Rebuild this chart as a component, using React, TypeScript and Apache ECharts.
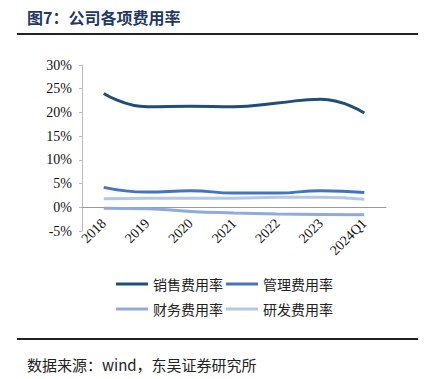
import React, { useEffect, useRef } from "react";
import * as echarts from "echarts";

const categories = ["2018", "2019", "2020", "2021", "2022", "2023", "2024Q1"];
const salesRate = [24.0, 21.2, 21.3, 21.2, 22.0, 22.8, 19.9];
const mgmtRate = [4.2, 3.2, 3.5, 3.0, 3.0, 3.5, 3.1];
const finRate = [-0.2, -0.3, -0.9, -1.2, -1.4, -1.5, -1.6];
const rdRate = [1.8, 1.9, 1.9, 1.9, 2.1, 2.1, 1.7];
const seriesNames = ["销售费用率", "管理费用率", "财务费用率", "研发费用率"];
const colors = ["#1F4E79", "#4472C4", "#8FAADC", "#B4C7E7"];

export default function App() {
  const ref = useRef<HTMLDivElement>(null);
  useEffect(() => {
    const chart = echarts.init(ref.current!, null, { renderer: "svg" });
    const data = [salesRate, mgmtRate, finRate, rdRate];
    const serif = "Liberation Serif";
    const cjk = "Noto Sans CJK SC";
    chart.setOption({
      animation: false,
      backgroundColor: "#fff",
      grid: { left: 82, right: 43, top: 65, bottom: 148 },
      graphic: [
        { type: "text", left: 27, top: 9, style: { text: "图7：公司各项费用率", font: `bold 16px "${cjk}"`, fill: "#1F3864" } },
        { type: "line", shape: { x1: 17, y1: 34, x2: 418, y2: 34 }, style: { stroke: "#222", lineWidth: 2 } },
        { type: "line", shape: { x1: 17, y1: 339, x2: 418, y2: 339 }, style: { stroke: "#222", lineWidth: 2 } },
        { type: "text", left: 27, top: 357, style: { text: "数据来源：wind，东吴证券研究所", font: `15px "${cjk}"`, fill: "#222" } },
      ],
      legend: [
        {
          data: seriesNames.slice(0, 2), left: 111, top: 272, itemWidth: 32, itemHeight: 3, itemGap: 3,
          icon: "rect", textStyle: { fontFamily: cjk, fontSize: 14, color: "#222" },
        },
        {
          data: seriesNames.slice(2, 4), left: 111, top: 297, itemWidth: 32, itemHeight: 3, itemGap: 3,
          icon: "rect", textStyle: { fontFamily: cjk, fontSize: 14, color: "#222" },
        },
      ],
      xAxis: {
        type: "category",
        data: categories,
        boundaryGap: true,
        axisLine: { onZero: true, lineStyle: { color: "#999" } },
        axisTick: { show: false },
        axisLabel: { rotate: 45, fontFamily: serif, fontSize: 14, color: "#111", margin: -10, interval: 0 },
      },
      yAxis: {
        type: "value",
        min: -5,
        max: 30,
        interval: 5,
        splitLine: { show: false },
        axisLine: { show: true, lineStyle: { color: "#bbb" } },
        axisTick: { show: true, length: 3, lineStyle: { color: "#bbb" } },
        axisLabel: { formatter: "{value}%", fontFamily: serif, fontSize: 14, color: "#111", margin: 10 },
      },
      series: data.map((d, i) => ({
        name: seriesNames[i],
        type: "line",
        data: d,
        smooth: true,
        symbol: "none",
        lineStyle: { width: 3, color: colors[i] },
        itemStyle: { color: colors[i] },
      })),
    });
    return () => chart.dispose();
  }, []);
  return <div ref={ref} style={{ width: 429, height: 379, position: "absolute", left: 0, top: 0 }} />;
}
